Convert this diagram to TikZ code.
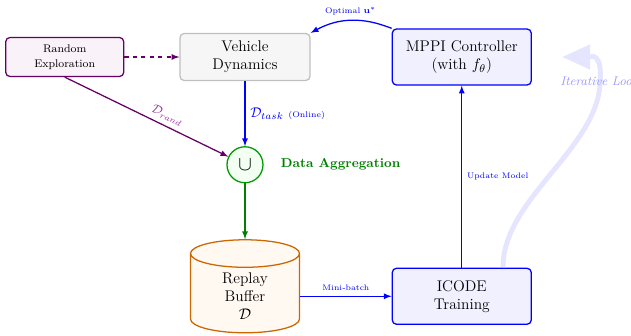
\documentclass[tikz,border=0pt]{standalone}
\usetikzlibrary{shapes.geometric,arrows.meta,positioning}
\begin{document}
\begin{tikzpicture}[line width=0.9pt,
	flow/.style={-latex},
	lbl/.style={font=\fontsize{5.7}{7}\selectfont},
	box/.style={rectangle,rounded corners=3pt,draw,align=center,font=\fontsize{11}{12.9}\selectfont},
	rand node/.style={box,draw=violet!80!black,fill=violet!5,minimum width=2.95cm,minimum height=0.975cm,font=\fontsize{7.9}{10.5}\selectfont},
	sys node/.style={box,draw=gray!50,fill=gray!7,minimum width=3.25cm,minimum height=1.175cm},
	ctrl node/.style={box,draw=blue,fill=blue!6,minimum width=3.475cm,minimum height=1.4cm},
	union node/.style={circle,draw=green!60!black,fill=green!5,minimum size=0.9cm,inner sep=0pt,font=\Large},
	buffer node/.style={cylinder,shape border rotate=90,aspect=0.5,draw=orange!80!black,fill=orange!5,align=center,
		minimum width=2.725cm,minimum height=2.325cm,font=\fontsize{11}{12.9}\selectfont}]

\useasboundingbox (-6.125,1.425) rectangle (9.65,-6.95);

\node[sys node] (veh) at (0,0) {Vehicle\\Dynamics};
\node[rand node] (rand) [left=1.375cm of veh] {Random\\Exploration};
\node[ctrl node] (mppi) [right=2.025cm of veh] {MPPI Controller\\(with $f_\theta$)};
\node[union node] (union) [below=1.625cm of veh] {$\cup$};
\node[font=\fontsize{9.2}{11}\selectfont\bfseries,text=green!50!black] (agg) [right=0.3cm of union] {Data Aggregation};
\node[ctrl node] (icode) [below=4.55cm of mppi] {ICODE\\Training};
\node[buffer node] (replay) at (union |- icode) {Replay\\Buffer\\$\mathcal{D}$};

% data collection
\draw[flow,dashed,violet!80!black] (rand) -- (veh);
\draw[flow,violet!80!black] (rand.south) -- (union)
	node[pos=0.6,above,sloped,text=violet!80,font=\small] {$\mathcal{D}_{rand}$};
\draw[flow,blue] (veh) -- (union)
	node[midway,right,text=blue] {$\mathcal{D}_{task}$ {\fontsize{5.8}{6}\selectfont(Online)}};
\draw[flow,green!50!black] (union) -- (replay.top);

% learning loop
\draw[flow,blue] (replay.east |- icode.west) -- (icode.west) node[midway,above,lbl,text=blue] {Mini-batch};
\draw[flow,blue] (icode) -- (mppi) node[midway,right,lbl,text=blue] {Update Model};
\draw[flow,blue] (mppi.north west) to[bend right=25] node[midway,above,lbl,text=blue] {Optimal $\mathbf{u}^*$} (veh.north east);

\coordinate (loop start) at (6.45,-5.25);
\coordinate (loop end) at (7.925,0);
\draw[blue!10,line width=3.5pt,-{Triangle[length=20pt,width=17pt]}]
	(loop start) .. controls (6.45,-3.575) and (8.75,-2.325) .. (8.875,-0.7)
	.. controls (8.95,0.175) and (8.625,0) .. (loop end);
\node[anchor=west,text=blue!40,font=\small\itshape] (loop lbl) at (7.75,-0.625) {Iterative Loop};
\end{tikzpicture}
\end{document}
